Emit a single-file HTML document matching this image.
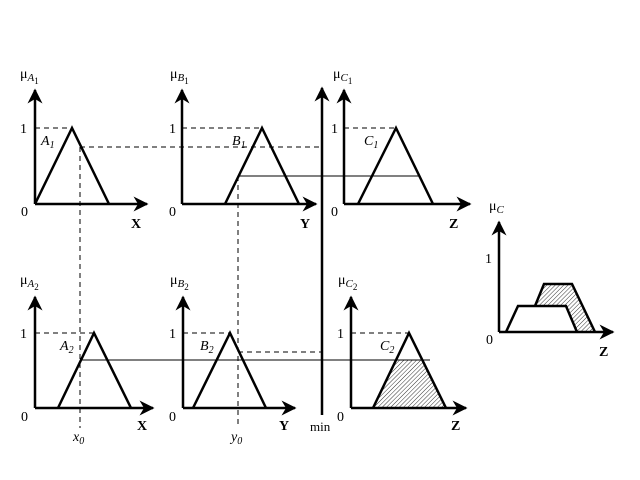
<!DOCTYPE html>
<html><head><style>body{margin:0;background:#fff}svg{display:block}text{font-family:"Liberation Serif",serif;fill:#000}</style></head><body>
<svg width="640" height="480" viewBox="0 0 640 480" xmlns="http://www.w3.org/2000/svg">
<defs>
<pattern id="h" width="3" height="3" patternUnits="userSpaceOnUse" patternTransform="rotate(45)"><line x1="0" y1="0" x2="0" y2="3" stroke="#000" stroke-width="0.8"/></pattern>
<marker id="a" viewBox="0 0 10 10" refX="9" refY="5" markerWidth="6" markerHeight="6" orient="auto"><path d="M0,0 L10,5 L0,10 L3,5 z" fill="#000"/></marker>
</defs>
<g fill="none" stroke="#000">
<polygon points="396,360 423,360 446,408 373,408" fill="url(#h)" stroke="none"/>
<polygon points="535,306 544,284 572,284 595,332 577,332 566,306" fill="url(#h)" stroke="none"/>
<g stroke-dasharray="5,4" stroke-width="1">
<line x1="35" y1="128" x2="72" y2="128"/><line x1="182" y1="128" x2="262" y2="128"/><line x1="344" y1="128" x2="396" y2="128"/>
<line x1="35" y1="333" x2="94" y2="333"/><line x1="183" y1="333" x2="230" y2="333"/><line x1="351" y1="333" x2="409" y2="333"/>
<line x1="80" y1="147" x2="322" y2="147"/><line x1="80" y1="147" x2="80" y2="428"/>
<line x1="238" y1="176" x2="238" y2="428"/><line x1="238" y1="352" x2="322" y2="352"/>
</g>
<g stroke-width="1">
<line x1="238" y1="176" x2="420" y2="176"/><line x1="80" y1="360" x2="430" y2="360"/>
</g>
<g stroke-width="2.5">
<line x1="35" y1="204" x2="35" y2="90" marker-end="url(#a)"/><line x1="35" y1="204" x2="147" y2="204" marker-end="url(#a)"/>
<line x1="182" y1="204" x2="182" y2="90" marker-end="url(#a)"/><line x1="182" y1="204" x2="316" y2="204" marker-end="url(#a)"/>
<line x1="344" y1="204" x2="344" y2="90" marker-end="url(#a)"/><line x1="344" y1="204" x2="470" y2="204" marker-end="url(#a)"/>
<line x1="35" y1="408" x2="35" y2="297" marker-end="url(#a)"/><line x1="35" y1="408" x2="153" y2="408" marker-end="url(#a)"/>
<line x1="183" y1="408" x2="183" y2="297" marker-end="url(#a)"/><line x1="183" y1="408" x2="295" y2="408" marker-end="url(#a)"/>
<line x1="351" y1="408" x2="351" y2="297" marker-end="url(#a)"/><line x1="351" y1="408" x2="466" y2="408" marker-end="url(#a)"/>
<line x1="322" y1="415" x2="322" y2="88" marker-end="url(#a)"/>
<line x1="499" y1="332" x2="499" y2="222" marker-end="url(#a)"/><line x1="499" y1="332" x2="613" y2="332" marker-end="url(#a)"/>
<polyline points="35,204 72,128 109,204"/><polyline points="225,204 262,128 299,204"/><polyline points="358,204 396,128 433,204"/>
<polyline points="58,408 94,333 131,408"/><polyline points="193,408 230,333 266,408"/><polyline points="373,408 409,333 446,408"/>
<polyline points="506,332 518,306 566,306 577,332"/><polyline points="535,306 544,284 572,284 595,332"/>
</g>
</g>
<g font-size="14">
<text x="20" y="78">μ<tspan font-size="11" font-style="italic" dy="3">A</tspan><tspan font-size="9" dy="3">1</tspan></text>
<text x="170" y="78">μ<tspan font-size="11" font-style="italic" dy="3">B</tspan><tspan font-size="9" dy="3">1</tspan></text>
<text x="333" y="78">μ<tspan font-size="11" font-style="italic" dy="3">C</tspan><tspan font-size="9" dy="3">1</tspan></text>
<text x="20" y="284">μ<tspan font-size="11" font-style="italic" dy="3">A</tspan><tspan font-size="9" dy="3">2</tspan></text>
<text x="170" y="284">μ<tspan font-size="11" font-style="italic" dy="3">B</tspan><tspan font-size="9" dy="3">2</tspan></text>
<text x="338" y="284">μ<tspan font-size="11" font-style="italic" dy="3">C</tspan><tspan font-size="9" dy="3">2</tspan></text>
<text x="489" y="210">μ<tspan font-size="11" font-style="italic" dy="3">C</tspan></text>
<text x="20" y="133">1</text><text x="169" y="133">1</text><text x="331" y="133">1</text>
<text x="20" y="338">1</text><text x="169" y="338">1</text><text x="337" y="338">1</text><text x="485" y="263">1</text>
<text x="21" y="216">0</text><text x="169" y="216">0</text><text x="331" y="216">0</text>
<text x="21" y="421">0</text><text x="169" y="421">0</text><text x="337" y="421">0</text><text x="486" y="344">0</text>
<text x="131" y="228" font-weight="bold">X</text><text x="300" y="228" font-weight="bold">Y</text><text x="449" y="228" font-weight="bold">Z</text>
<text x="137" y="430" font-weight="bold">X</text><text x="279" y="430" font-weight="bold">Y</text><text x="451" y="430" font-weight="bold">Z</text><text x="599" y="356" font-weight="bold">Z</text>
<text x="310" y="431" font-size="13">min</text>
<g font-style="italic">
<text x="41" y="145">A<tspan font-size="10" dy="3">1</tspan></text>
<text x="232" y="145">B<tspan font-size="10" dy="3">1</tspan></text>
<text x="364" y="145">C<tspan font-size="10" dy="3">1</tspan></text>
<text x="60" y="350">A<tspan font-size="10" dy="3">2</tspan></text>
<text x="200" y="350">B<tspan font-size="10" dy="3">2</tspan></text>
<text x="380" y="350">C<tspan font-size="10" dy="3">2</tspan></text>
<text x="73" y="441">x<tspan font-size="10" dy="3">0</tspan></text>
<text x="231" y="441">y<tspan font-size="10" dy="3">0</tspan></text>
</g>
</g>
</svg>
</body></html>
